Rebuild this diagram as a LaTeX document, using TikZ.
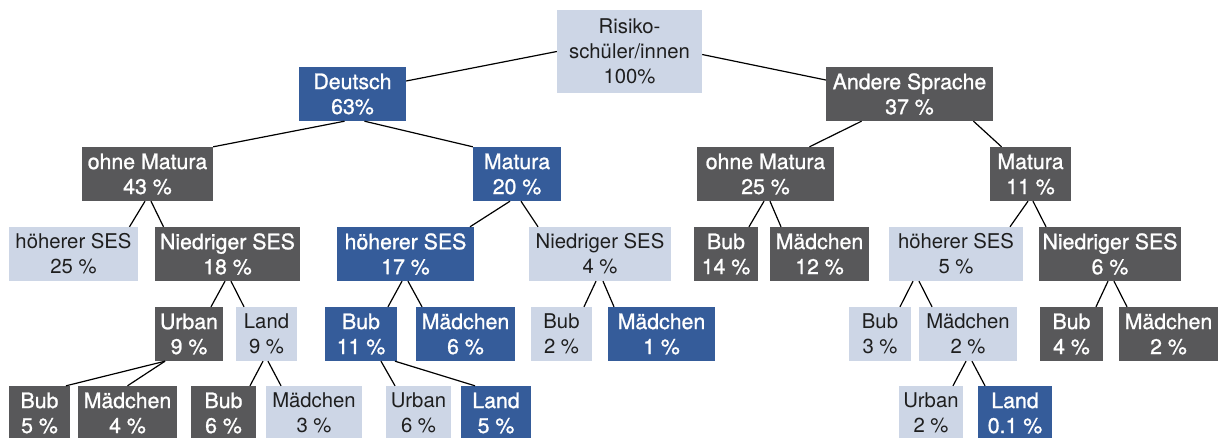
\documentclass[tikz,border=0pt]{standalone}
\usepackage{fontspec}
\setmainfont{TeX Gyre Heros}
\newfontfamily\medfont[FakeBold=1.1]{TeX Gyre Heros}
\usepackage{tikz}
\definecolor{darkbox}{RGB}{88,88,90}
\definecolor{bluebox}{RGB}{53,92,154}
\definecolor{palebox}{RGB}{205,214,230}
\definecolor{inktext}{RGB}{30,30,30}

\begin{document}
\begin{tikzpicture}[x=1pt, y=-1pt,
  every text node part/.style={align=center},
  every node/.style={shape=rectangle, inner sep=0pt, minimum height=54pt},
  boxdark/.style={fill=darkbox, text=white, font=\medfont\fontsize{21.3}{25}\selectfont},
  boxblue/.style={fill=bluebox, text=white, font=\medfont\fontsize{21.3}{25}\selectfont},
  boxpale/.style={fill=palebox, text=inktext, font=\fontsize{20.3}{25}\selectfont},
  link/.style={line width=1.2pt}]
  \useasboundingbox (0,0) rectangle (1219,437);

  \node (root) [boxpale, minimum width=145pt, minimum height=83pt] at (629.5,51.5) {Risiko-\\schüler/innen\\100\%};

  \node (deu) [boxblue, minimum width=107pt] at (352.5,94) {Deutsch\\63\%};
  \node (and) [boxdark, minimum width=167pt] at (909.5,94) {Andere Sprache\\37 \%};

  \node (om1) [boxdark, minimum width=131pt] at (147.5,174) {ohne Matura\\43 \%};
  \node (ma1) [boxblue, minimum width=88pt] at (517,174) {Matura\\20 \%};
  \node (om2) [boxdark, minimum width=137pt] at (765.5,174) {ohne Matura\\25 \%};
  \node (ma2) [boxdark, minimum width=81pt] at (1030.5,174) {Matura\\11 \%};

  \node (hs1) [boxpale, minimum width=129pt] at (73.5,254) {höherer SES\\25 \%};
  \node (ns1) [boxdark, minimum width=145pt] at (227.5,254) {Niedriger SES\\18 \%};
  \node (hs2) [boxblue, minimum width=137pt] at (405.5,254) {höherer SES\\17 \%};
  \node (ns2) [boxpale, minimum width=142pt] at (600,254) {Niedriger SES\\4 \%};
  \node (bub14) [boxdark, minimum width=64pt] at (726,254) {Bub\\14 \%};
  \node (mae12) [boxdark, minimum width=99pt] at (819.5,254) {Mädchen\\12 \%};
  \node (hs3) [boxpale, minimum width=134pt] at (956,254) {höherer SES\\5 \%};
  \node (ns3) [boxdark, minimum width=142pt] at (1110,254) {Niedriger SES\\6 \%};

  \node (urb9) [boxdark, minimum width=68pt] at (189,334) {Urban\\9 \%};
  \node (land9) [boxpale, minimum width=61pt] at (266.5,334) {Land\\9 \%};
  \node (bub11) [boxblue, minimum width=72pt] at (361,334) {Bub\\11 \%};
  \node (mae6) [boxblue, minimum width=99pt] at (465.5,334) {Mädchen\\6 \%};
  \node (bub2) [boxpale, minimum width=61pt] at (561.5,334) {Bub\\2 \%};
  \node (mae1) [boxblue, minimum width=107pt] at (661.5,334) {Mädchen\\1 \%};
  \node (bub3) [boxpale, minimum width=62pt] at (880,334) {Bub\\3 \%};
  \node (mae2a) [boxpale, minimum width=98pt] at (968,334) {Mädchen\\2 \%};
  \node (bub4) [boxdark, minimum width=63pt] at (1071.5,334) {Bub\\4 \%};
  \node (mae2b) [boxdark, minimum width=99pt] at (1168.5,334) {Mädchen\\2 \%};

  \node (bub5) [boxdark, minimum width=61pt] at (39.5,413) {Bub\\5 \%};
  \node (mae4) [boxdark, minimum width=99pt] at (127.5,413) {Mädchen\\4 \%};
  \node (bub6) [boxdark, minimum width=65pt] at (223.5,413) {Bub\\6 \%};
  \node (mae3) [boxpale, minimum width=96pt] at (314,413) {Mädchen\\3 \%};
  \node (urb6) [boxpale, minimum width=65pt] at (418.5,413) {Urban\\6 \%};
  \node (land5) [boxblue, minimum width=70pt] at (496,413) {Land\\5 \%};
  \node (urb2) [boxpale, minimum width=64pt] at (931,413) {Urban\\2 \%};
  \node (land01) [boxblue, minimum width=74pt] at (1015,413) {Land\\0.1 \%};

  \draw[link] (root.west) -- ([yshift=13pt]deu.east);
  \draw[link] ([yshift=-3pt]root.east) -- ([yshift=14pt]and.west);
  \draw[link] ([xshift=-8pt]deu.south) -- (om1.north east);
  \draw[link] ([xshift=12pt]deu.south) -- (ma1.north west);
  \draw[link] ([xshift=-48pt]and.south) -- ([xshift=44pt]om2.north);
  \draw[link] ([xshift=64pt]and.south) -- ([xshift=-29pt]ma2.north);

  \draw[link] ([xshift=-2.5pt]om1.south) -- ([xshift=56pt]hs1.north);
  \draw[link] ([xshift=3.5pt]om1.south) -- ([xshift=-64pt]ns1.north);
  \draw[link] ([xshift=-7pt]ma1.south) -- ([xshift=64.5pt]hs2.north);
  \draw[link] ([xshift=4pt]ma1.south) -- ([xshift=-62pt]ns2.north);
  \draw[link] ([xshift=-1.5pt]om2.south) -- ([xshift=23pt]bub14.north);
  \draw[link] ([xshift=4.5pt]om2.south) -- ([xshift=-38.5pt]mae12.north);
  \draw[link] ([xshift=-2.5pt]ma2.south) -- ([xshift=54pt]hs3.north);
  \draw[link] ([xshift=2.5pt]ma2.south) -- ([xshift=-64pt]ns3.north);

  \draw[link] ([xshift=-2.5pt]ns1.south) -- ([xshift=22pt]urb9.north);
  \draw[link] ([xshift=3.5pt]ns1.south) -- ([xshift=-22.5pt]land9.north);
  \draw[link] ([xshift=-3.5pt]hs2.south) -- ([xshift=27pt]bub11.north);
  \draw[link] ([xshift=2.5pt]hs2.south) -- ([xshift=-43.5pt]mae6.north);
  \draw[link] ([xshift=-4pt]ns2.south) -- ([xshift=22.5pt]bub2.north);
  \draw[link] ([xshift=3pt]ns2.south) -- ([xshift=-47.5pt]mae1.north);
  \draw[link] ([xshift=-43pt]hs3.south) -- ([xshift=20pt]bub3.north);
  \draw[link] ([xshift=-37pt]hs3.south) -- ([xshift=-36pt]mae2a.north);
  \draw[link] ([xshift=-2pt]ns3.south) -- ([xshift=24.5pt]bub4.north);
  \draw[link] ([xshift=4pt]ns3.south) -- ([xshift=-41.5pt]mae2b.north);

  \draw[link] ([xshift=-24pt]urb9.south) -- ([xshift=26.5pt]bub5.north);
  \draw[link] ([xshift=-24pt]urb9.south) -- (mae4.north);
  \draw[link] ([xshift=-3.5pt]land9.south) -- ([xshift=26.5pt]bub6.north);
  \draw[link] ([xshift=1.5pt]land9.south) -- ([xshift=-33pt]mae3.north);
  \draw[link] ([xshift=20pt]bub11.south) -- ([xshift=-23.5pt]urb6.north);
  \draw[link] ([xshift=34pt]bub11.south) -- ([xshift=-21pt]land5.north);
  \draw[link] ([xshift=-2pt]mae2a.south) -- ([xshift=22pt]urb2.north);
  \draw[link] ([xshift=4pt]mae2a.south) -- ([xshift=-30pt]land01.north);
\end{tikzpicture}
\end{document}
